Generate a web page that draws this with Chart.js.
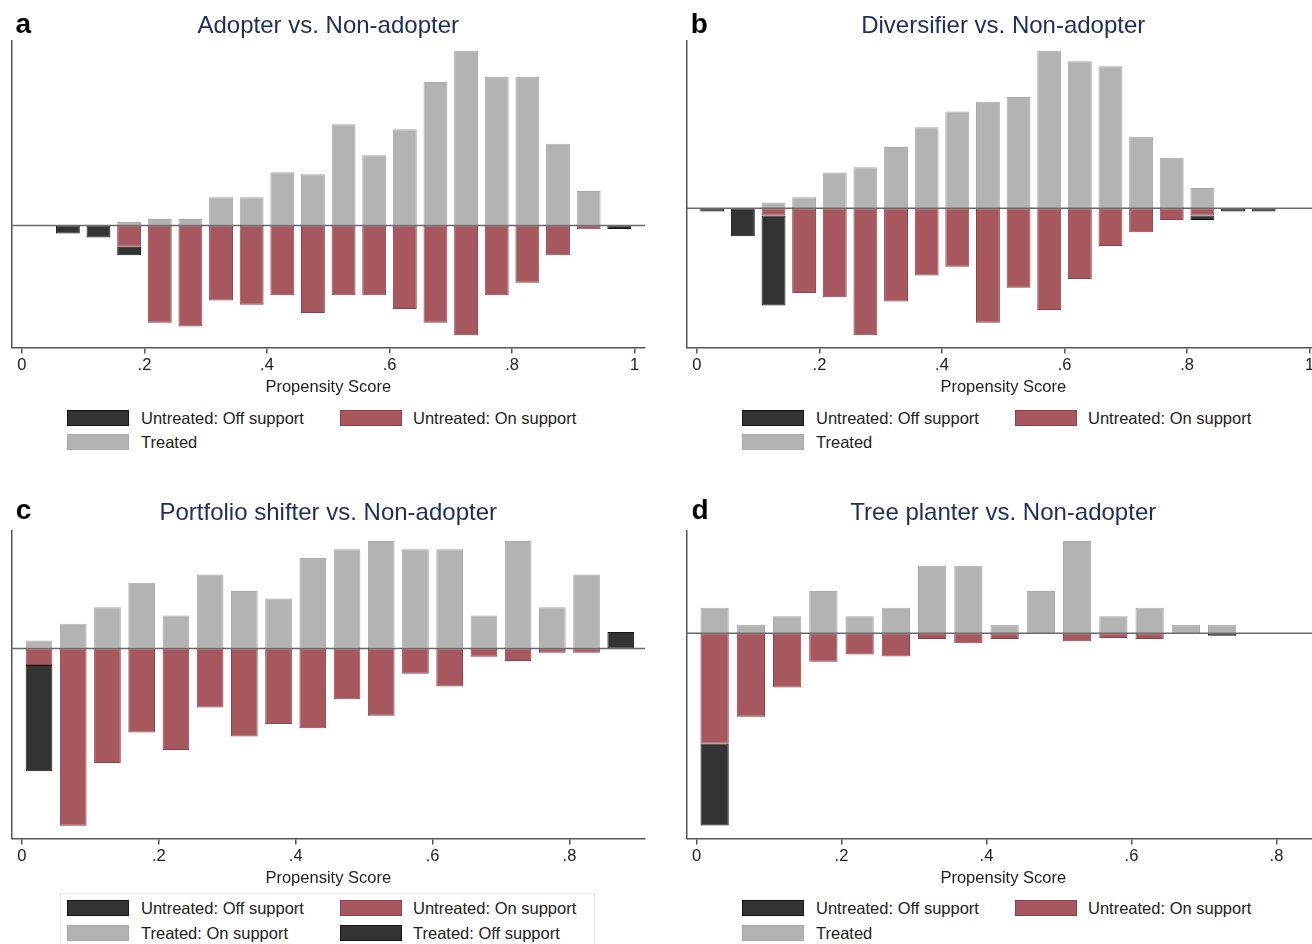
<!DOCTYPE html>
<html>
<head>
<meta charset="utf-8">
<script src="https://cdn.jsdelivr.net/npm/chart.js@4.4.1/dist/chart.umd.min.js"></script>
<style>
  html, body { margin: 0; padding: 0; background: #fff; }
  body { width: 1312px; height: 944px; position: relative; overflow: hidden; font-family: 'Liberation Sans', Arial, sans-serif; }
  canvas { position: absolute; }
  .letter { position: absolute; font-weight: bold; font-size: 28px; line-height: 28px; color: #000; }
  .lg-box { position: absolute; width: 62px; height: 16px; box-sizing: border-box; border-width: 1.5px; border-style: solid; }
  .lg-text { position: absolute; font-size: 16.5px; line-height: 20px; color: #222; white-space: nowrap; }
  .lg-frame { position: absolute; border: 1px solid #e2e9ef; box-sizing: border-box; }
</style>
</head>
<body>
<script>
// ---- data (bin centres of the propensity score histogram) ----
var binCenters = [0.025, 0.075, 0.125, 0.175, 0.225, 0.275, 0.325, 0.375, 0.425, 0.475,
                  0.525, 0.575, 0.625, 0.675, 0.725, 0.775, 0.825, 0.875, 0.925, 0.975];
var xTickValues = [0, 0.2, 0.4, 0.6, 0.8, 1];
var xTickLabels = ['0', '.2', '.4', '.6', '.8', '1'];

// a: Adopter vs. Non-adopter
var treatedA      = [null, null, null, 1.1, 2.0, 2.0, 8.6, 8.6, 16.2, 15.6, 30.7, 21.3, 29.2, 43.5, 53.0, 45.1, 45.1, 24.8, 10.5, null];
var untreatedOnA  = [null, null, null, 6.4, 29.4, 30.6, 22.7, 24.0, 21.1, 26.5, 21.1, 21.1, 25.3, 29.4, 33.2, 21.1, 17.3, 9.0, 1.1, null];
var untreatedOffA = [null, 2.4, 3.6, 2.6, null, null, null, null, null, null, null, null, null, null, null, null, null, null, null, 1.0];

// b: Diversifier vs. Non-adopter
var treatedB      = [null, null, 1.7, 3.3, 10.8, 12.4, 18.5, 24.5, 29.3, 32.2, 33.7, 47.7, 44.5, 43.0, 21.6, 15.3, 6.1, null, null, null];
var untreatedOnB  = [null, null, 2.2, 25.7, 27.0, 38.5, 28.3, 20.4, 17.8, 34.7, 24.1, 30.9, 21.5, 11.5, 7.3, 3.6, 2.2, null, null, null];
var untreatedOffB = [1.0, 8.5, 27.3, null, null, null, null, null, null, null, null, null, null, null, null, null, 1.4, 1.0, 1.0, null];

// c: Portfolio shifter vs. Non-adopter
var treatedOnC    = [2.4, 7.5, 12.5, 19.9, 10.0, 22.4, 17.4, 15.1, 27.4, 30.0, 32.5, 30.0, 30.0, 10.0, 32.5, 12.5, 22.4, null];
var treatedOffC   = [null, null, null, null, null, null, null, null, null, null, null, null, null, null, null, null, null, 5.0];
var untreatedOnC  = [5.0, 53.6, 34.6, 25.4, 30.7, 17.8, 26.6, 22.8, 24.1, 15.3, 20.3, 7.6, 11.5, 2.5, 3.8, 1.3, 1.3, null];
var untreatedOffC = [32.1, null, null, null, null, null, null, null, null, null, null, null, null, null, null, null, null, null];

// d: Tree planter vs. Non-adopter
var treatedD      = [7.7, 2.6, 5.2, 12.8, 5.2, 7.7, 20.4, 20.4, 2.6, 12.8, 27.9, 5.2, 7.7, 2.6, 2.6];
var untreatedOnD  = [33.3, 25.2, 16.4, 8.6, 6.4, 7.0, 1.7, 3.0, 1.7, 0.2, 2.4, 1.4, 1.7, null, null];
var untreatedOffD = [24.8, null, null, null, null, null, null, null, null, null, null, null, null, null, 0.7];

var legendLabels2 = ['Untreated: Off support', 'Untreated: On support', 'Treated'];
var legendLabels4 = ['Untreated: Off support', 'Untreated: On support', 'Treated: On support', 'Treated: Off support'];

// ---- styles ----
var FONT = "'Liberation Sans', Arial, sans-serif";
var STYLE = {
  off:     { fill: '#333333', line: '#141414' },
  on:      { fill: '#a6585e', line: '#93404a' },
  treated: { fill: '#b3b3b3', line: '#a9a9a9' }
};

var panels = [
  { letter: 'a', title: 'Adopter vs. Non-adopter', left: 0, top: 0, height: 400, titlePad: [12, 0],
    xmin: -0.017, xmax: 1.017, ymin: -36.9, ymax: 56.0, rows: [418.3, 441.7],
    series: [[untreatedOnA, -1, 'on'], [untreatedOffA, -1, 'off'], [treatedA, 1, 'treated']],
    legend: legendLabels2, legendStyles: ['off', 'on', 'treated'] },
  { letter: 'b', title: 'Diversifier vs. Non-adopter', left: 675, top: 0, height: 400, titlePad: [12, 0],
    xmin: -0.017, xmax: 1.017, ymin: -42.2, ymax: 50.7, rows: [418.3, 441.7],
    series: [[untreatedOnB, -1, 'on'], [untreatedOffB, -1, 'off'], [treatedB, 1, 'treated']],
    legend: legendLabels2, legendStyles: ['off', 'on', 'treated'] },
  { letter: 'c', title: 'Portfolio shifter vs. Non-adopter', left: 0, top: 486, height: 405, titlePad: [13, 3],
    xmin: -0.0152, xmax: 0.9104, ymin: -57.4, ymax: 35.6, rows: [908.3, 933.3], frame: true,
    series: [[untreatedOnC, -1, 'on'], [untreatedOffC, -1, 'off'], [treatedOnC, 1, 'treated'], [treatedOffC, 1, 'off']],
    legend: legendLabels4, legendStyles: ['off', 'on', 'treated', 'off'] },
  { letter: 'd', title: 'Tree planter vs. Non-adopter', left: 675, top: 486, height: 405, titlePad: [13, 3],
    xmin: -0.0138, xmax: 0.860, ymin: -62.0, ymax: 31.0, rows: [908.3, 933.3],
    series: [[untreatedOnD, -1, 'on'], [untreatedOffD, -1, 'off'], [treatedD, 1, 'treated']],
    legend: legendLabels2, legendStyles: ['off', 'on', 'treated'] }
];

function toPoints(values, sign) {
  var pts = [];
  values.forEach(function(v, i) {
    if (v !== null && v !== undefined) pts.push({ x: binCenters[i], y: sign * v });
  });
  return pts;
}

// zero line drawn over the bars
var baselinePlugin = {
  id: 'baseline',
  afterDatasetsDraw: function(chart) {
    var y = chart.scales.y.getPixelForValue(0);
    var area = chart.chartArea;
    var ctx = chart.ctx;
    ctx.save();
    ctx.strokeStyle = '#6a6a6a';
    ctx.lineWidth = 1.5;
    ctx.beginPath();
    ctx.moveTo(area.left, y);
    ctx.lineTo(area.right, y);
    ctx.stroke();
    ctx.restore();
  }
};

function addDiv(cls, css, text) {
  var d = document.createElement('div');
  d.className = cls;
  for (var k in css) d.style[k] = css[k];
  if (text) d.textContent = text;
  document.body.appendChild(d);
  return d;
}

panels.forEach(function(p) {
  var canvas = document.createElement('canvas');
  canvas.width = 656;
  canvas.height = p.height;
  canvas.style.left = p.left + 'px';
  canvas.style.top = p.top + 'px';
  document.body.appendChild(canvas);

  var datasets = p.series.map(function(s) {
    var st = STYLE[s[2]];
    return {
      data: toPoints(s[0], s[1]),
      backgroundColor: st.fill,
      borderColor: st.line,
      borderWidth: 1,
      borderSkipped: false,
      grouped: false,
      barPercentage: 0.78,
      categoryPercentage: 1
    };
  });

  new Chart(canvas.getContext('2d'), {
    type: 'bar',
    data: { datasets: datasets },
    plugins: [baselinePlugin],
    options: {
      responsive: false,
      animation: false,
      layout: { padding: { left: 11.5, right: 11, top: 0, bottom: 0 } },
      plugins: {
        legend: { display: false },
        tooltip: { enabled: false },
        title: {
          display: true, text: p.title, color: '#1d2d5c',
          font: { family: FONT, size: 24, weight: 'normal' },
          padding: { top: p.titlePad[0], bottom: p.titlePad[1] }
        }
      },
      scales: {
        x: {
          type: 'linear', offset: false, min: p.xmin, max: p.xmax,
          grid: { display: true, drawOnChartArea: false, drawTicks: true, tickLength: 6, color: '#555', lineWidth: 1.5, offset: false },
          border: { display: true, color: '#555', width: 1.5 },
          afterBuildTicks: function(scale) {
            scale.ticks = xTickValues.filter(function(v) { return v >= scale.min && v <= scale.max; })
              .map(function(v) { return { value: v }; });
          },
          ticks: {
            autoSkip: false, maxRotation: 0, padding: 2, color: '#222',
            font: { family: FONT, size: 16.5 },
            callback: function(value) {
              var i = xTickValues.indexOf(value);
              return i >= 0 ? xTickLabels[i] : '';
            }
          },
          title: { display: true, text: 'Propensity Score', color: '#222', font: { family: FONT, size: 16.5 }, padding: { top: 0, bottom: 3 } }
        },
        y: {
          stacked: true, min: p.ymin, max: p.ymax,
          grid: { display: false, drawTicks: false },
          border: { display: true, color: '#555', width: 1.5 },
          ticks: { display: false }
        }
      }
    }
  });

  // panel letter
  var letterLeft = { a: 15.5, b: 690.7, c: 15.7, d: 691.5 }[p.letter];
  addDiv('letter', { left: letterLeft + 'px', top: (p.top === 0 ? 9.6 : 495.6) + 'px' }, p.letter);

  // legend
  if (p.frame) {
    addDiv('lg-frame', { left: (p.left + 60) + 'px', top: '893px', width: '535px', height: '60px' });
  }
  p.legend.forEach(function(label, k) {
    var col = k % 2, row = Math.floor(k / 2);
    var st = STYLE[p.legendStyles[k]];
    var cy = p.rows[row];
    addDiv('lg-box', {
      left: (p.left + (col ? 340 : 67)) + 'px', top: (cy - 8) + 'px',
      background: st.fill, borderColor: st.line
    });
    addDiv('lg-text', { left: (p.left + (col ? 413 : 141)) + 'px', top: (cy - 10) + 'px' }, label);
  });
});
</script>
</body>
</html>
